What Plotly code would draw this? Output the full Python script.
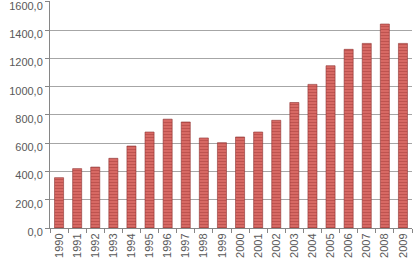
import plotly.graph_objects as go

years = [str(y) for y in range(1990, 2010)]
values = [356, 420, 431, 493, 580, 679, 770, 750, 637, 604,
          644, 679, 762, 888, 1016, 1148, 1264, 1306, 1443, 1306]
y_ticks = [0, 200, 400, 600, 800, 1000, 1200, 1400, 1600]

fig = go.Figure()
fig.add_trace(go.Bar(
    x=years, y=values, width=0.5,
    marker=dict(
        color="#D25E59",
        line=dict(color="#8E3330", width=0.6),
        pattern=dict(shape="-", fgcolor="#A43C38", bgcolor="#D96B66", size=3, solidity=0.4),
    ),
))

fig.update_layout(
    width=419, height=276,
    margin=dict(l=50, r=7, t=1, b=48),
    paper_bgcolor="white", plot_bgcolor="white",
    showlegend=False,
    separators=",.",
    bargap=0.5,
    font=dict(family="Liberation Sans", size=11, color="#595959"),
)
fig.update_xaxes(
    type="category", tickangle=-90,
    ticks="outside", tickson="boundaries", ticklen=4, tickcolor="#868686",
    showline=True, linecolor="#868686", linewidth=1,
    showgrid=False,
    tickfont=dict(size=11, color="#595959"),
)
fig.update_yaxes(
    range=[0, 1606], tickvals=y_ticks, tickformat=".1f",
    showgrid=True, gridcolor="#A6A6A6", gridwidth=1,
    showline=True, linecolor="#868686", linewidth=1,
    ticks="outside", ticklen=4, tickcolor="#868686",
    ticklabelshift=4, ticklabeloverflow="allow",
    tickfont=dict(size=11, color="#595959"),
    zeroline=False,
)
fig.write_html("out.html")
